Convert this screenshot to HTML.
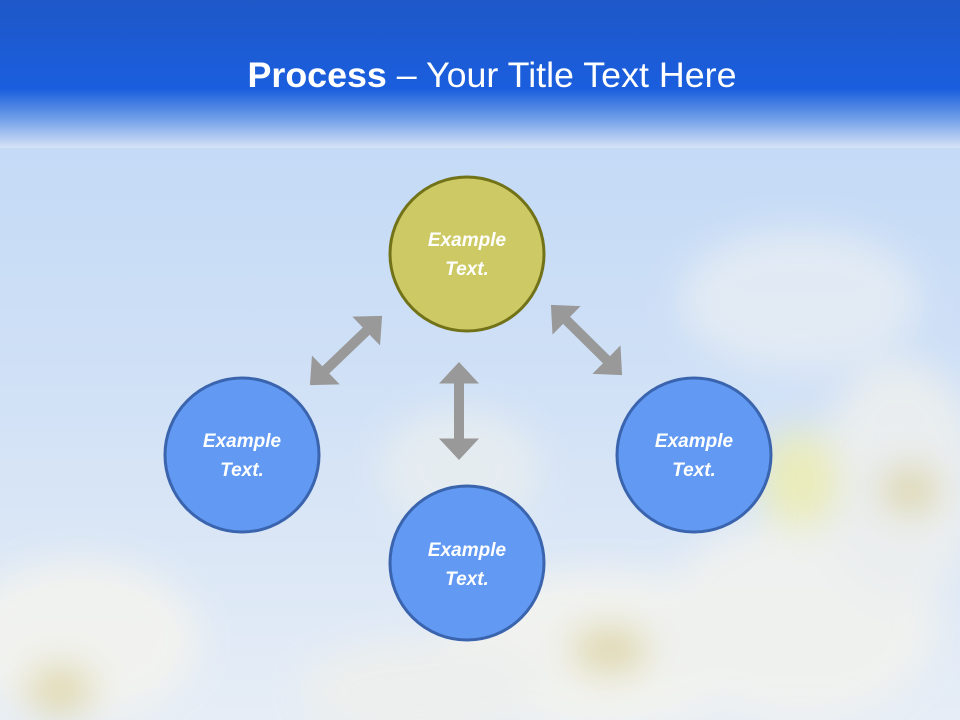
<!DOCTYPE html>
<html><head><meta charset="utf-8"><style>
html,body{margin:0;padding:0;}
body{width:960px;height:720px;overflow:hidden;position:relative;font-family:"Liberation Sans",sans-serif;}
</style></head><body>
<svg width="960" height="720" viewBox="0 0 960 720" xmlns="http://www.w3.org/2000/svg" style="position:absolute;left:0;top:0">
<defs>
<linearGradient id="sky" x1="0" y1="0" x2="0" y2="1">
<stop offset="0" stop-color="#bcd6f6"/><stop offset="0.5" stop-color="#cfe0f6"/><stop offset="1" stop-color="#e6edf6"/>
</linearGradient>
<linearGradient id="bar" x1="0" y1="0" x2="0" y2="1">
<stop offset="0" stop-color="#1f58c8"/><stop offset="0.6" stop-color="#1a5ede"/><stop offset="0.8" stop-color="#6f9ee8"/><stop offset="1" stop-color="#d6e3f6"/>
</linearGradient>
<filter id="bl"><feGaussianBlur stdDeviation="18"/></filter>
<path id="dbl" d="M-50,0 L-28,-20 L-28,-5 L28,-5 L28,-20 L50,0 L28,20 L28,5 L-28,5 L-28,20 Z" fill="#999"/>
</defs>
<rect width="960" height="720" fill="url(#sky)"/>
<g filter="url(#bl)" opacity="0.85">
<ellipse cx="80" cy="640" rx="120" ry="80" fill="#f4f4ee"/>
<ellipse cx="600" cy="650" rx="160" ry="80" fill="#f4f4ee"/>
<ellipse cx="800" cy="620" rx="140" ry="100" fill="#f2f3ee"/>
<ellipse cx="900" cy="480" rx="80" ry="120" fill="#eef0ee"/>
<ellipse cx="800" cy="300" rx="120" ry="70" fill="#e6edf4"/>
<ellipse cx="420" cy="690" rx="120" ry="50" fill="#eef0ec"/>
<ellipse cx="460" cy="470" rx="80" ry="60" fill="#e8eef0"/>
<ellipse cx="610" cy="650" rx="40" ry="25" fill="#e0d6a0"/>
<ellipse cx="910" cy="490" rx="30" ry="25" fill="#e0d6a0"/>
<ellipse cx="800" cy="480" rx="40" ry="50" fill="#eeeeb0"/>
<ellipse cx="60" cy="690" rx="35" ry="25" fill="#e0d6a0"/>
</g>
<rect width="960" height="148" fill="url(#bar)"/>
<use href="#dbl" transform="translate(346,350.5) rotate(-43.8)"/>
<use href="#dbl" transform="translate(459,411) rotate(90) scale(0.98,1)"/>
<use href="#dbl" transform="translate(586.5,340) rotate(44.6)"/>
<circle cx="467" cy="254" r="77" fill="#cdca65" stroke="#727219" stroke-width="3"/>
<circle cx="242" cy="455" r="77" fill="#6199f3" stroke="#3a64ad" stroke-width="3"/>
<circle cx="694" cy="455" r="77" fill="#6199f3" stroke="#3a64ad" stroke-width="3"/>
<circle cx="467" cy="563" r="77" fill="#6199f3" stroke="#3a64ad" stroke-width="3"/>
<g fill="#fff" font-family="Liberation Sans, sans-serif" font-size="19" font-weight="bold" font-style="italic" text-anchor="middle">
<text x="467" y="246">Example</text><text x="467" y="275">Text.</text>
<text x="242" y="447">Example</text><text x="242" y="476">Text.</text>
<text x="694" y="447">Example</text><text x="694" y="476">Text.</text>
<text x="467" y="556">Example</text><text x="467" y="585">Text.</text>
</g>
<text x="492" y="87" fill="#fff" font-family="Liberation Sans, sans-serif" font-size="35" text-anchor="middle" textLength="489" lengthAdjust="spacingAndGlyphs"><tspan font-weight="bold">Process</tspan> – Your Title Text Here</text>
</svg>
</body></html>
